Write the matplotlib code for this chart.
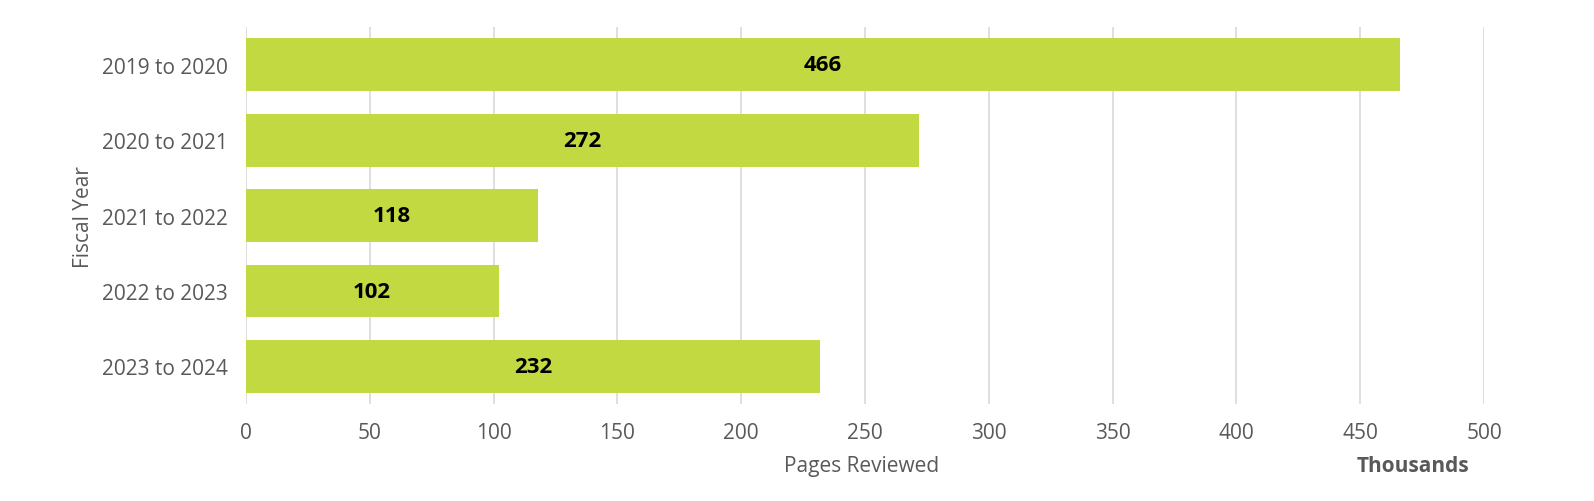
import numpy as np
import matplotlib.pyplot as plt

# Pages reviewed per fiscal year (thousands)
years = ['2019 to 2020', '2020 to 2021', '2021 to 2022', '2022 to 2023', '2023 to 2024']
pages = [466, 272, 118, 102, 232]
xticks = [0, 50, 100, 150, 200, 250, 300, 350, 400, 450, 500]

plt.rcParams['font.family'] = ['Open Sans', 'DejaVu Sans']
grey = '#595959'

fig = plt.figure(figsize=(15.94, 5.02), dpi=100)
ax = fig.add_axes([0.1543, 0.193, 0.7767, 0.751])

y = np.arange(len(years))
ax.barh(y, pages, height=0.7, color='#C3D942', zorder=2)
for yi, v in zip(y, pages):
    ax.text(v / 2, yi, str(v), ha='center', va='center',
            fontsize=16, fontweight='bold', color='black', zorder=3)

ax.set_ylim(len(years) - 0.5, -0.5)
ax.set_yticks(y)
ax.set_yticklabels(years)
ax.set_xlim(0, 500)
ax.set_xticks(xticks)

ax.grid(axis='x', color='#D9D9D9', linewidth=1.2, zorder=0)
for s in ax.spines.values():
    s.set_visible(False)
ax.tick_params(axis='both', length=0, labelsize=15, colors=grey)
ax.tick_params(axis='x', pad=13)
ax.tick_params(axis='y', pad=13)

ax.set_ylabel('Fiscal Year', fontsize=15, color=grey, labelpad=6)
fig.text(862 / 1594, 1 - 467 / 502, 'Pages Reviewed', ha='center', va='center',
         fontsize=15, color=grey)
fig.text(1413 / 1594, 1 - 467 / 502, 'Thousands', ha='center', va='center',
         fontsize=15, fontweight='bold', color=grey)

fig.savefig('out.png', dpi=100)
